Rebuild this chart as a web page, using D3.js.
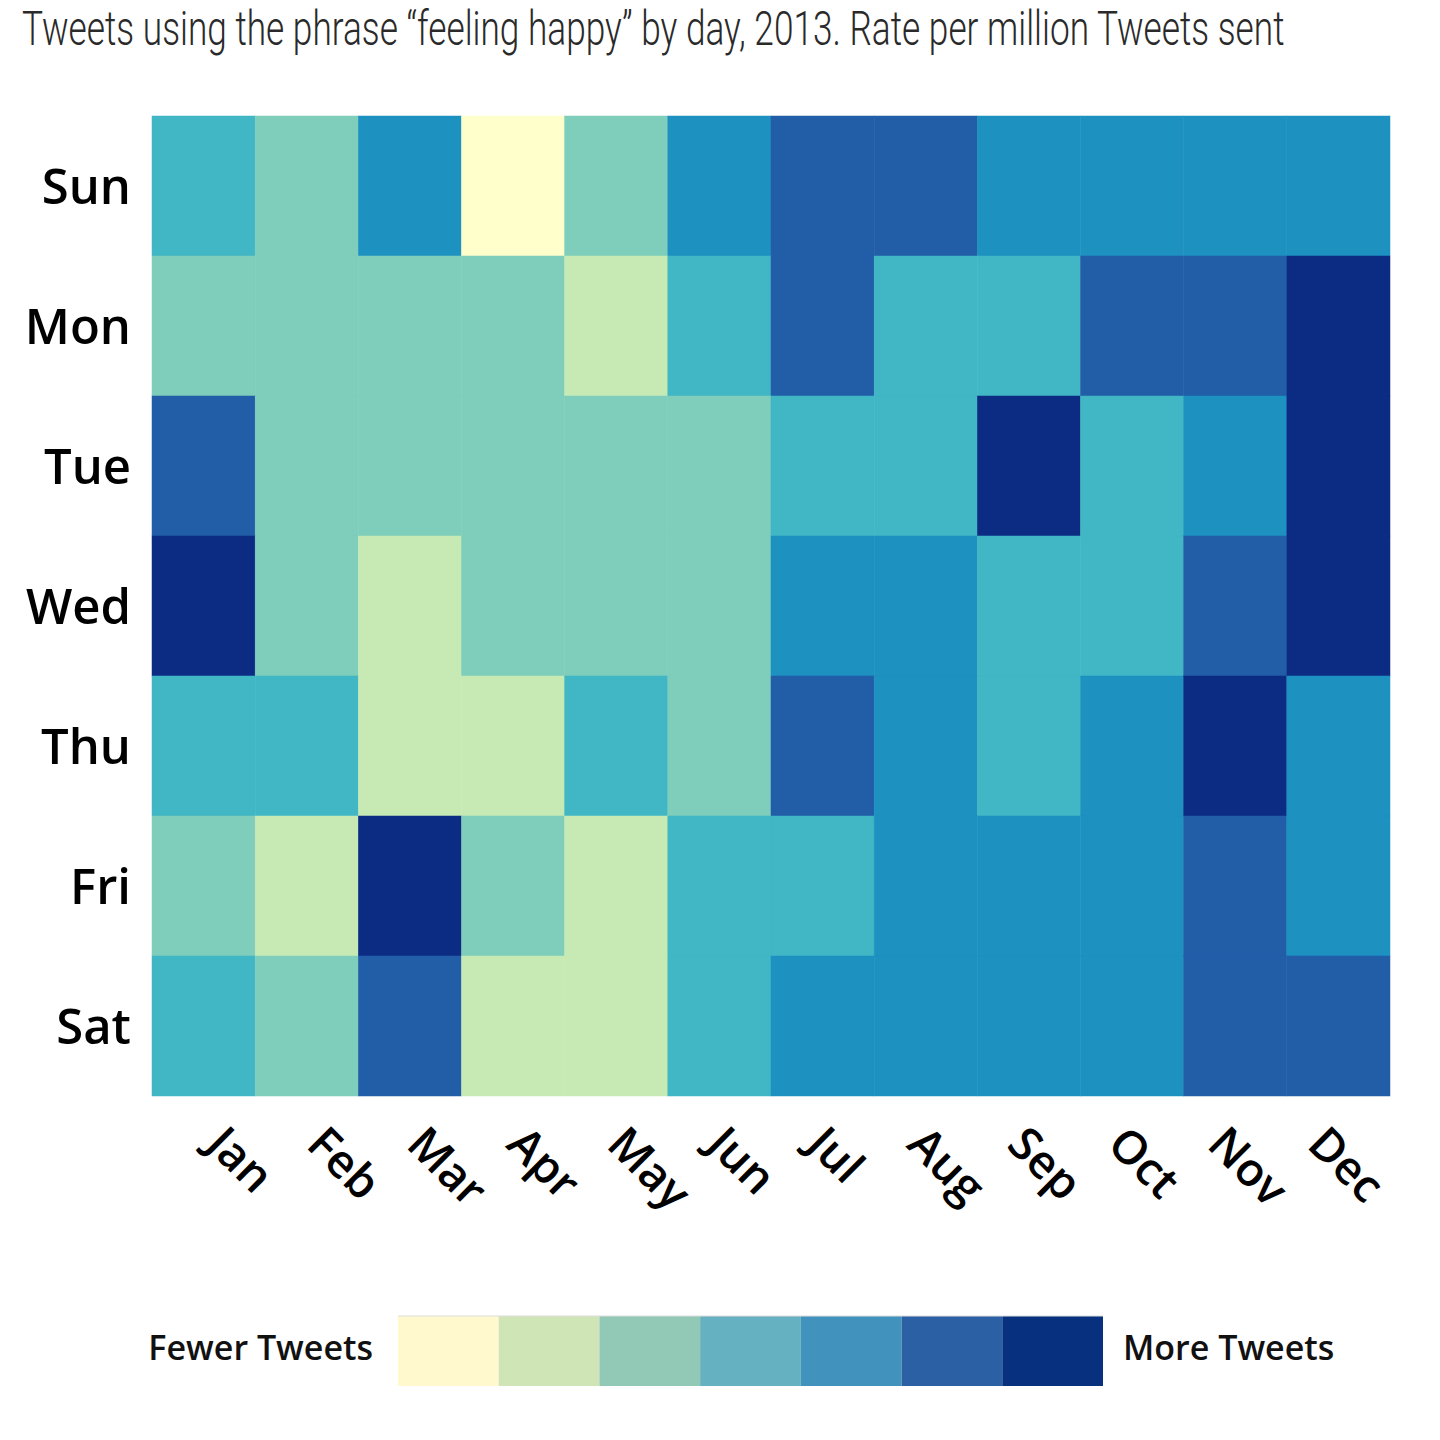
<html>
<head>
    <meta charset="utf-8">
    <title>Feeling happy</title>
    <style>
        body { margin: 0; background: #fff; }
        .day-label { font-family: "Open Sans", sans-serif; font-weight: 600; font-size: 49px; fill: #000; }
        .month-label { font-family: "Open Sans", sans-serif; font-weight: 600; font-size: 46px; fill: #000; }
        .legend-label { font-family: "Open Sans", sans-serif; font-weight: 600; font-size: 34px; fill: #111; }
        .title { font-family: Roboto, sans-serif; font-weight: 300; font-size: 49px; fill: #2a2a2a; }
    </style>
</head>
<body>
<div id="chart"></div>
<script src="https://d3js.org/d3.v7.min.js"></script>
<script>
    var months = ["Jan", "Feb", "Mar", "Apr", "May", "Jun", "Jul", "Aug", "Sep", "Oct", "Nov", "Dec"];
    var days = ["Sun", "Mon", "Tue", "Wed", "Thu", "Fri", "Sat"];

    // colour class (0 = fewest tweets, 6 = most), one array per weekday, Jan..Dec
    var sun = [3, 2, 4, 0, 2, 4, 5, 5, 4, 4, 4, 4];
    var mon = [2, 2, 2, 2, 1, 3, 5, 3, 3, 5, 5, 6];
    var tue = [5, 2, 2, 2, 2, 2, 3, 3, 6, 3, 4, 6];
    var wed = [6, 2, 1, 2, 2, 2, 4, 4, 3, 3, 5, 6];
    var thu = [3, 3, 1, 1, 3, 2, 5, 4, 3, 4, 6, 4];
    var fri = [2, 1, 6, 2, 1, 3, 3, 4, 4, 4, 5, 4];
    var sat = [3, 2, 5, 1, 1, 3, 4, 4, 4, 4, 5, 5];
    var rows = [sun, mon, tue, wed, thu, fri, sat];

    var levels = [0, 1, 2, 3, 4, 5, 6];
    var cellColors = ["#ffffcc", "#c7e9b4", "#7fcdbb", "#41b6c4", "#1d91c0", "#225ea8", "#0c2c84"];
    var legendColors = ["#fff9cd", "#cfe5b5", "#92c8b6", "#65b1c1", "#4292be", "#2b61a4", "#07317e"];

    var title = "Tweets using the phrase \u201cfeeling happy\u201d by day, 2013. Rate per million Tweets sent";

    var width = 1440, height = 1440;
    var svg = d3.select("#chart").append("svg").attr("width", width).attr("height", height);

    // condensed look: measure the title and squeeze it horizontally to its width
    var titleText = svg.append("text")
        .attr("class", "title")
        .attr("x", 0)
        .attr("y", 0)
        .text(title);
    var titleLen = titleText.node().getComputedTextLength();
    titleText.attr("transform", "translate(22,45) scale(" + (1263 / titleLen) + ",1)");

    var x = d3.scaleBand().domain(months).range([152, 1390]);
    var y = d3.scaleBand().domain(days).range([116, 1096]);
    var color = d3.scaleOrdinal().domain(levels).range(cellColors);
    // the month labels sit on a slightly tighter pitch than the cells
    var xLabel = d3.scalePoint().domain(months).range([228, 1329]);

    var cells = [];
    days.forEach(function (d, i) {
        months.forEach(function (m, j) {
            cells.push({day: d, month: m, value: rows[i][j]});
        });
    });

    svg.append("g").selectAll("rect")
        .data(cells).enter()
        .append("rect")
        .attr("x", function (d) { return x(d.month); })
        .attr("y", function (d) { return y(d.day); })
        .attr("width", x.bandwidth())
        .attr("height", y.bandwidth())
        .attr("fill", function (d) { return color(d.value); })
        .attr("stroke", function (d) { return color(d.value); })
        .attr("stroke-width", 0.5);

    // day labels
    svg.append("g").selectAll("text")
        .data(days).enter()
        .append("text")
        .attr("class", "day-label")
        .attr("text-anchor", "end")
        .attr("x", 131)
        .attr("y", function (d) { return y(d) + y.bandwidth() / 2; })
        .attr("dy", "0.36em")
        .text(function (d) { return d; });

    // month labels, rotated
    svg.append("g").selectAll("text")
        .data(months).enter()
        .append("text")
        .attr("class", "month-label")
        .attr("transform", function (d) {
            return "translate(" + xLabel(d) + ",1123) rotate(45)";
        })
        .attr("dy", "0.72em")
        .text(function (d) { return d; });

    // legend
    var lx = d3.scaleBand().domain(levels).range([398, 1103]);
    var legend = svg.append("g");
    legend.selectAll("rect")
        .data(levels).enter()
        .append("rect")
        .attr("x", function (d) { return lx(d); })
        .attr("y", 1316)
        .attr("width", lx.bandwidth())
        .attr("height", 70)
        .attr("fill", function (d) { return legendColors[d]; });
    legend.append("line")
        .attr("x1", 398).attr("x2", 1103)
        .attr("y1", 1316).attr("y2", 1316)
        .attr("stroke", "#ddd").attr("stroke-width", 1);

    legend.append("text")
        .attr("class", "legend-label")
        .attr("text-anchor", "end")
        .attr("x", 373)
        .attr("y", 1348)
        .attr("dy", "0.36em")
        .text("Fewer Tweets");
    legend.append("text")
        .attr("class", "legend-label")
        .attr("x", 1123)
        .attr("y", 1348)
        .attr("dy", "0.36em")
        .text("More Tweets");
</script>
</body>
</html>
